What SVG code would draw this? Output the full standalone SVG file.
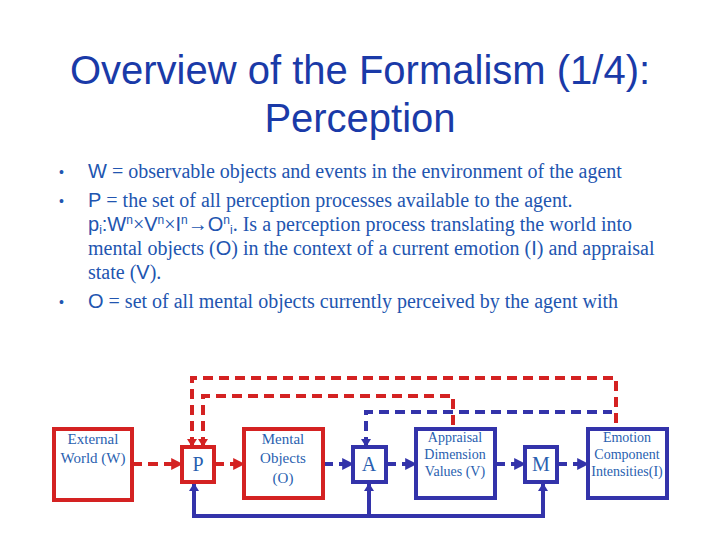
<svg xmlns="http://www.w3.org/2000/svg" width="720" height="540" viewBox="0 0 720 540">
<defs>
<style>
.title{font-family:"Liberation Sans",Arial,sans-serif;font-size:40px;fill:#1a3aa8;text-anchor:middle}
.body{font-family:"Liberation Serif","Times New Roman",serif;font-size:20px;fill:#2255b0}
.sans{font-family:"Liberation Sans",Arial,sans-serif}
.bul{font-family:"Liberation Sans",Arial,sans-serif;font-size:14px;fill:#2255b0}
.lbl{font-family:"Liberation Serif","Times New Roman",serif;font-size:15px;fill:#2a5fb0;text-anchor:middle}
.lbs{font-family:"Liberation Serif","Times New Roman",serif;font-size:14px;fill:#2a5fb0;text-anchor:middle}
.big{font-family:"Liberation Serif","Times New Roman",serif;font-size:20px;fill:#2a5fb0;text-anchor:middle}
.rbox{fill:#fff;stroke:#d42222;stroke-width:4}
.bbox{fill:#fff;stroke:#3333aa;stroke-width:4}
.rd{fill:none;stroke:#d42222;stroke-width:4;stroke-dasharray:10 6}
.bd{fill:none;stroke:#3333aa;stroke-width:4;stroke-dasharray:10 6}
.bs{fill:none;stroke:#3333aa;stroke-width:4}
</style>
<marker id="ar" viewBox="0 0 10 10" refX="9" refY="5" markerWidth="3" markerHeight="3" orient="auto" markerUnits="strokeWidth"><path d="M0,0 L10,5 L0,10 z" fill="#d42222"/></marker>
<marker id="ab" viewBox="0 0 10 10" refX="9" refY="5" markerWidth="3" markerHeight="3" orient="auto" markerUnits="strokeWidth"><path d="M0,0 L10,5 L0,10 z" fill="#3333aa"/></marker>
</defs>
<rect width="720" height="540" fill="#fff"/>
<g id="title">
<text class="title" x="360" y="84">Overview of the Formalism (1/4):</text>
<text class="title" x="360" y="132">Perception</text>
</g>
<g id="bullets">
<text class="bul" x="59" y="177">•</text>
<text class="bul" x="59" y="206">•</text>
<text class="bul" x="59" y="307">•</text>
<text class="body" x="88" y="178"><tspan class="sans">W</tspan> = observable objects and events in the environment of the agent</text>
<text class="body" x="88" y="207"><tspan class="sans">P</tspan> = the set of all perception processes available to the agent.</text>
<text class="body" x="88" y="231"><tspan class="sans">p</tspan><tspan class="sans" font-size="12" dy="3">i</tspan><tspan class="sans" dy="-3">:W</tspan><tspan class="sans" font-size="12" dy="-7">n</tspan><tspan dy="7">×</tspan><tspan class="sans">V</tspan><tspan class="sans" font-size="12" dy="-7">n</tspan><tspan dy="7">×</tspan><tspan class="sans">I</tspan><tspan class="sans" font-size="12" dy="-7">n</tspan><tspan dy="7">→</tspan><tspan class="sans">O</tspan><tspan class="sans" font-size="12" dy="-7">n</tspan><tspan class="sans" font-size="12" dy="10">i</tspan><tspan dy="-3">. Is a perception process translating the world into</tspan></text>
<text class="body" x="88" y="255">mental objects (<tspan class="sans">O</tspan>) in the context of a current emotion (<tspan class="sans">I</tspan>) and appraisal</text>
<text class="body" x="88" y="279">state (<tspan class="sans">V</tspan>).</text>
<text class="body" x="88" y="308"><tspan class="sans">O</tspan> = set of all mental objects currently perceived by the agent with</text>
</g>
<g id="connectors">
<path class="rd" d="M192,447 V378 H616 V429"/>
<path class="rd" d="M203,447 V396 H453 V429"/>
<path class="bd" d="M366,447 V412 H612"/>
<path class="rd" d="M132,464 H182" marker-end="url(#ar)"/>
<path class="rd" d="M214,464 H244" marker-end="url(#ar)"/>
<path class="bd" d="M323,464 H353" marker-end="url(#ab)"/>
<path class="bd" d="M386,464 H416" marker-end="url(#ab)"/>
<path class="bd" d="M495,464 H525" marker-end="url(#ab)"/>
<path class="bd" d="M557,464 H588" marker-end="url(#ab)"/>
<path class="bs" d="M194,482 V516 H543 V482"/>
<path class="bs" d="M369,516 V482"/>
</g>
<g id="arrowheads">
<path d="M187,439 L197,439 L192,447 z" fill="#d42222"/>
<path d="M198,439 L208,439 L203,447 z" fill="#d42222"/>
<path d="M361,439 L371,439 L366,447 z" fill="#3333aa"/>
<path d="M189,491 L199,491 L194,483 z" fill="#3333aa"/>
<path d="M364,491 L374,491 L369,483 z" fill="#3333aa"/>
<path d="M538,491 L548,491 L543,483 z" fill="#3333aa"/>
</g>
<g id="node-W"><rect class="rbox" x="54" y="429" width="78" height="71"/><text class="lbl" x="93" y="444">External</text><text class="lbl" x="93" y="463">World (W)</text></g>
<g id="node-P"><rect class="rbox" x="182" y="447" width="32" height="35"/><text class="big" x="198" y="471">P</text></g>
<g id="node-O"><rect class="rbox" x="244" y="429" width="79" height="69"/><text class="lbl" x="283" y="444">Mental</text><text class="lbl" x="283" y="463">Objects</text><text class="lbl" x="283" y="483">(O)</text></g>
<g id="node-A"><rect class="bbox" x="353" y="447" width="33" height="35"/><text class="big" x="369" y="471">A</text></g>
<g id="node-V"><rect class="bbox" x="416" y="429" width="79" height="69"/><text class="lbs" x="455" y="442">Appraisal</text><text class="lbs" x="455" y="459">Dimension</text><text class="lbs" x="455" y="476">Values (V)</text></g>
<g id="node-M"><rect class="bbox" x="525" y="447" width="32" height="35"/><text class="big" x="541" y="471">M</text></g>
<g id="node-I"><rect class="bbox" x="588" y="429" width="79" height="69"/><text class="lbs" x="627" y="442">Emotion</text><text class="lbs" x="627" y="459">Component</text><text class="lbs" x="627" y="476">Intensities(I)</text></g>
</svg>
